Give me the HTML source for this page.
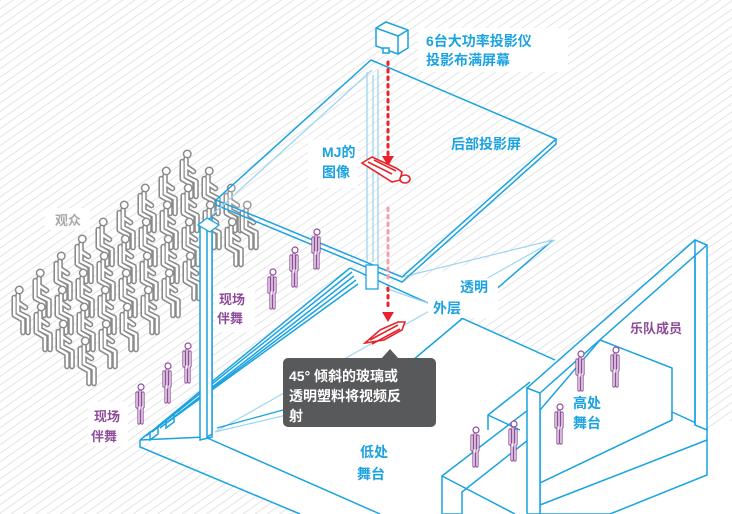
<!DOCTYPE html>
<html><head><meta charset="utf-8"><style>
html,body{margin:0;padding:0;background:#fff}
svg{display:block}
text{font-family:"Liberation Sans","Noto Sans CJK SC",sans-serif;font-weight:bold}
</style></head><body>
<svg width="732" height="514" viewBox="0 0 732 514" xmlns="http://www.w3.org/2000/svg">
<defs>
<pattern id="h" width="7" height="7" patternUnits="userSpaceOnUse" patternTransform="rotate(-35)">
<rect width="7" height="7" fill="#fff"/><line x1="0" y1="0" x2="7" y2="0" stroke="#d9d9d9" stroke-width="1.4"/>
</pattern>
<g id="s0">
<path d="M8 4 L8 18 L16 22 L16 34 M8 10 L14 14 M5 6 L5 20 L12 24 L12 34" fill="none" stroke="#8a8a8a" stroke-width="4.5" stroke-linecap="round" stroke-linejoin="round"/>
<path d="M8 4 L8 18 L16 22 L16 34 M8 10 L14 14 M5 6 L5 20 L12 24 L12 34" fill="none" stroke="#fff" stroke-width="2" stroke-linecap="round" stroke-linejoin="round"/>
<circle cx="9" cy="0" r="3" fill="#fff" stroke="#8a8a8a" stroke-width="1.2"/>
</g>
<g id="seat"><use href="#s0" transform="scale(1.25)"/></g>
<g id="man">
<path d="M6 6 L6 24 M3 8 L3 22 M9 8 L9 22 M5 22 L5 38 M8 22 L8 38" fill="none" stroke="#8e4b9a" stroke-width="3.2" stroke-linecap="round"/>
<path d="M6 6 L6 24 M3 8 L3 22 M9 8 L9 22 M5 22 L5 38 M8 22 L8 38" fill="none" stroke="#fff" stroke-width="1.2" stroke-linecap="round"/>
<circle cx="7" cy="2" r="3" fill="#fff" stroke="#8e4b9a" stroke-width="1.2"/>
</g>
</defs>
<rect width="732" height="514" fill="url(#h)"/>
<!-- lower stage floor -->
<polygon points="140,440 350,268 385,288 553,240 463,318 560,362 527,390 527,514 300,514" fill="#fff"/>
<polygon points="527,390 697,242 708,248 708,430 732,420 732,514 527,514" fill="#fff"/>
<polygon points="442,476 530,405 540,514 442,514" fill="#fff"/>

<!-- audience -->
<g>
<use href="#seat" x="8" y="290"/><use href="#seat" x="29" y="273"/><use href="#seat" x="50" y="256"/><use href="#seat" x="71" y="239"/><use href="#seat" x="92" y="222"/><use href="#seat" x="113" y="205"/><use href="#seat" x="134" y="188"/><use href="#seat" x="155" y="171"/><use href="#seat" x="176" y="154"/>
<use href="#seat" x="30" y="307"/><use href="#seat" x="51" y="290"/><use href="#seat" x="72" y="273"/><use href="#seat" x="93" y="256"/><use href="#seat" x="114" y="239"/><use href="#seat" x="135" y="222"/><use href="#seat" x="156" y="205"/><use href="#seat" x="177" y="188"/><use href="#seat" x="198" y="171"/>
<use href="#seat" x="52" y="324"/><use href="#seat" x="73" y="307"/><use href="#seat" x="94" y="290"/><use href="#seat" x="115" y="273"/><use href="#seat" x="136" y="256"/><use href="#seat" x="157" y="239"/><use href="#seat" x="178" y="222"/><use href="#seat" x="199" y="205"/><use href="#seat" x="220" y="188"/>
<use href="#seat" x="74" y="341"/><use href="#seat" x="95" y="324"/><use href="#seat" x="116" y="307"/><use href="#seat" x="137" y="290"/><use href="#seat" x="158" y="273"/><use href="#seat" x="179" y="256"/><use href="#seat" x="221" y="222"/><use href="#seat" x="236" y="205"/>
</g>
<rect x="45" y="208" width="45" height="22" fill="#fff"/>
<text x="55" y="225" font-size="13" fill="#aaa">观众</text>

<!-- steps -->
<g fill="none" stroke="#1aa3e0" stroke-width="1.5">
<polyline points="140,440 150,432 150,440 158,434 158,426 166,420 166,428 174,422 174,414 180,410"/>
<line x1="146" y1="436" x2="350" y2="268"/><line x1="152" y1="432" x2="352" y2="272"/>
<line x1="160" y1="428" x2="354" y2="276"/><line x1="168" y1="422" x2="356" y2="280"/><line x1="176" y1="416" x2="358" y2="284"/>
<polyline points="140,440 140,447 300,514"/>
<line x1="140" y1="440" x2="205" y2="437"/>
<line x1="205" y1="437" x2="380" y2="514"/>
<line x1="350" y1="268" x2="555" y2="360"/>
<line x1="463" y1="318" x2="553" y2="240"/>
<line x1="413" y1="360" x2="463" y2="318"/>
</g>
<g stroke="#9fd6f0" stroke-width="1.2" fill="none">
<line x1="215" y1="432" x2="555" y2="240"/>
<line x1="215" y1="432" x2="350" y2="400"/>
<line x1="385" y1="288" x2="470" y2="318"/>
<line x1="402" y1="277" x2="553" y2="240"/>
</g>

<!-- back screen -->
<g fill="none" stroke="#1aa3e0" stroke-width="1.5">
<polygon points="371,60 556,139 402,277 216,200" fill="rgba(255,255,255,0.15)"/>
<polyline points="216,200 216,205 402,282 556,144 556,139"/>
</g>
<g fill="none" stroke="#9fd6f0" stroke-width="1.3">
<line x1="367" y1="72" x2="367" y2="262"/><line x1="373" y1="75" x2="373" y2="262"/><line x1="378" y1="70" x2="378" y2="264"/>
<line x1="212" y1="215" x2="372" y2="70"/>
</g>
<g fill="#fff" stroke="#1aa3e0" stroke-width="1.3"><rect x="366" y="265" width="12" height="24"/></g>

<!-- left pillar -->
<g fill="#fff" stroke="#1aa3e0" stroke-width="1.5">
<polygon points="200,225 212,217 212,437 200,440"/>
<polygon points="207,228 212,222 212,434 207,437"/>
</g>
<polygon points="198,225 207,218 219,225 210,232" fill="#fff" stroke="#1aa3e0" stroke-width="1.3"/>

<!-- back wall & high stage -->
<g fill="#fff" stroke="#1aa3e0" stroke-width="1.5">
<polygon points="442,476 528,410 528,440 462,492 462,514 442,514"/>
<line x1="442" y1="476" x2="515" y2="514"/>
<polyline points="488,430 488,415 530,382"/>
<line x1="488" y1="415" x2="520" y2="430"/>
<polygon points="600,340 672,368 672,420 540,483 540,410"/>
<polygon points="672,412 707,428 707,475 610,514 540,514 540,483 672,420"/>
<polygon points="527,388 540,393 540,514 527,514"/>
<polygon points="695,240 707,245 707,430 695,425"/>
<line x1="695" y1="255" x2="695" y2="425"/>
</g>
<g fill="none" stroke="#1aa3e0" stroke-width="1.5">
<line x1="527" y1="388" x2="695" y2="240"/>
<line x1="540" y1="393" x2="707" y2="245"/>
<line x1="540" y1="505" x2="707" y2="440"/>
</g>

<!-- dancers -->
<use href="#man" x="134" y="385"/><use href="#man" x="161" y="364"/><use href="#man" x="181" y="344"/>
<use href="#man" x="266" y="270"/><use href="#man" x="288" y="248"/><use href="#man" x="310" y="230"/>
<use href="#man" x="469" y="428"/><use href="#man" x="507" y="422"/>
<use href="#man" x="553" y="405"/><use href="#man" x="574" y="352"/><use href="#man" x="609" y="348"/>

<!-- projector -->
<g fill="#fff" stroke="#1aa3e0" stroke-width="1.5">
<polygon points="376,28 386,22 408,30 408,48 398,54 376,46"/>
<polyline points="376,28 398,36 408,30"/><line x1="398" y1="36" x2="398" y2="54"/>
<rect x="383" y="48" width="6" height="5"/>
</g>
<line x1="388" y1="62" x2="388" y2="155" stroke="#e8212a" stroke-width="3" stroke-dasharray="2.5 5" stroke-linecap="round"/>
<polygon points="382,156 394,156 388,166" fill="#e8212a"/>
<line x1="388" y1="208" x2="388" y2="282" stroke="#f4a0a4" stroke-width="3" stroke-dasharray="2.5 5" stroke-linecap="round"/>
<line x1="388" y1="288" x2="388" y2="310" stroke="#e8212a" stroke-width="3" stroke-dasharray="2.5 5" stroke-linecap="round"/>
<polygon points="382,312 394,312 388,322" fill="#e8212a"/>
<g fill="#fff" stroke="#e8212a" stroke-width="1.6">
<path d="M362 163 L372 157 L396 168 L402 172 L400 180 L392 182 Z"/>
<line x1="368" y1="162" x2="392" y2="174"/><line x1="374" y1="160" x2="396" y2="171"/>
<ellipse cx="405" cy="179" rx="5" ry="4"/>
<path d="M365 343 L380 330 L398 322 L405 322 L402 330 L384 340 Z"/>
<line x1="370" y1="340" x2="398" y2="325"/><line x1="372" y1="344" x2="400" y2="329"/>
</g>

<!-- labels -->
<rect x="418" y="28" width="150" height="44" fill="#fff"/>
<text x="426" y="46" font-size="14" fill="#1aa3e0">6台大功率投影仪</text>
<text x="426" y="65" font-size="14" fill="#1aa3e0">投影布满屏幕</text>
<text x="451" y="149" font-size="14" fill="#1aa3e0">后部投影屏</text>
<rect x="308" y="140" width="50" height="48" fill="#fff"/>
<text x="322" y="157" font-size="14" fill="#1aa3e0">MJ的</text>
<text x="322" y="177" font-size="14" fill="#1aa3e0">图像</text>
<rect x="428" y="278" width="70" height="40" fill="#fff"/>
<text x="460" y="292" font-size="14" fill="#1aa3e0">透明</text>
<text x="433" y="313" font-size="14" fill="#1aa3e0">外层</text>
<rect x="215" y="288" width="40" height="44" fill="#fff"/>
<text x="219" y="304" font-size="13" fill="#8e4b9a">现场</text>
<text x="217" y="323" font-size="13" fill="#8e4b9a">伴舞</text>
<rect x="88" y="402" width="40" height="44" fill="#fff"/>
<text x="94" y="421" font-size="13" fill="#8e4b9a">现场</text>
<text x="91" y="441" font-size="13" fill="#8e4b9a">伴舞</text>
<rect x="628" y="318" width="62" height="18" fill="#fff"/>
<text x="630" y="333" font-size="13" fill="#8e4b9a">乐队成员</text>
<text x="573" y="408" font-size="14" fill="#1aa3e0">高处</text>
<text x="573" y="428" font-size="14" fill="#1aa3e0">舞台</text>
<text x="360" y="457" font-size="14" fill="#1aa3e0">低处</text>
<text x="357" y="479" font-size="14" fill="#1aa3e0">舞台</text>

<rect x="283" y="358" width="153" height="69" rx="5" fill="#58595b"/>
<polygon points="381,359 390,349 399,359" fill="#58595b"/>
<line x1="283" y1="410" x2="217" y2="428" stroke="#1aa3e0" stroke-width="1.3"/>
<text x="289" y="381" font-size="14" fill="#fff">45° 倾斜的玻璃或</text>
<text x="289" y="401" font-size="14" fill="#fff">透明塑料将视频反</text>
<text x="289" y="421" font-size="14" fill="#fff">射</text>
</svg>
</body></html>
